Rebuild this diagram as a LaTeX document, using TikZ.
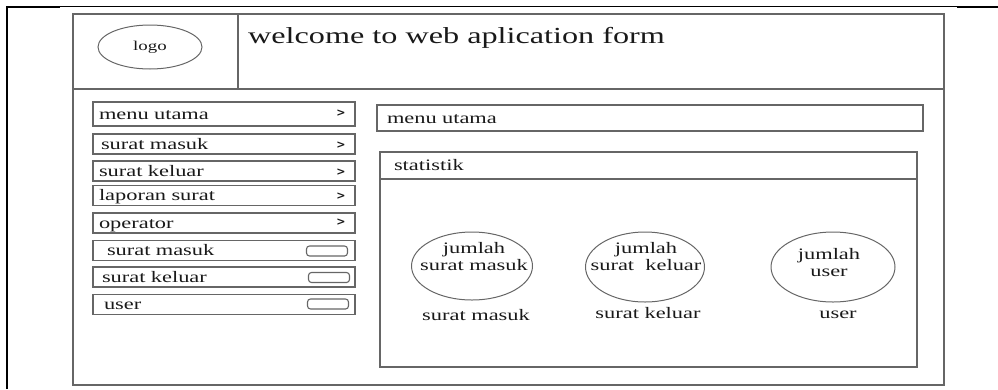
\documentclass[tikz,border=0pt]{standalone}
\usepackage{fontspec}
\setmainfont{Liberation Serif}[FakeStretch=1.4]
\newfontfamily\arrowfont{DejaVu Sans}
\usepackage{tikz}
\usetikzlibrary{shapes.geometric}

\tikzset{
  frame/.style={draw=black!60, line width=1.3pt},
  item/.style={draw=black!60, line width=1.1pt, minimum height=20pt,
    text width=250pt, inner xsep=6pt, inner ysep=0pt, align=left,
    text height=12pt, text depth=2pt},
  arr/.style={font=\fontsize{11}{11}\arrowfont\bfseries, inner sep=0pt},
  btn/.style={draw=black!60, line width=1.1pt, rounded corners=3pt,
    minimum width=41pt, minimum height=10pt, inner sep=0pt},
  stat/.style={draw=black!60, line width=1pt, ellipse, inner sep=0pt},
  txt/.style={inner sep=0pt, align=center}
}

\begin{document}
\begin{tikzpicture}[x=1pt, y=-1pt, text=black!90,
  font=\fontsize{16}{17}\selectfont]
\useasboundingbox (0,0) rectangle (998,389);

% table lines
\draw[line width=2pt] (7,389) -- (7,6.5) -- (60,6.5);
\draw[line width=1pt] (60,6.5) -- (957,6.5);
\draw[line width=2pt] (957,6.5) -- (998,6.5);

% page frame and header
\draw[frame] (73,14) rectangle (944,385);
\draw[frame] (73,89) -- (944,89);
\draw[frame] (238,14) -- (238,89);
\node[stat, minimum width=104pt, minimum height=44pt,
  font=\fontsize{13.5}{14}\selectfont] (logo) at (150,47) {logo};
\node[anchor=base west, inner sep=0pt, font=\fontsize{23}{26}\selectfont]
  (title) at (248,43) {welcome to web aplication form};

% left menu
\node[item, minimum height=24pt] (mUtama) at (224,114) {menu utama};
\node[item] (mMasuk) at (224,144) {\hspace{2pt}surat masuk};
\node[item] (mKeluar) at (224,171) {surat keluar};
\node[item] (mLaporan) at (224,195.5) {laporan surat};
\node[item] (mOperator) at (224,223) {operator};
\node[item] (oMasuk) at (224,250.5) {\hspace{8pt}surat masuk};
\node[item] (oKeluar) at (224,277) {\hspace{3pt}surat keluar};
\node[item] (oUser) at (224,304.5) {\hspace{5pt}user};

% arrows and buttons
\node[arr] (aUtama) at (341,113) {>};
\node[arr] (aMasuk) at (341,145) {>};
\node[arr] (aKeluar) at (341,172) {>};
\node[arr] (aLaporan) at (341,196) {>};
\node[arr] (aOperator) at (341,222) {>};
\node[btn] (bMasuk) at (327,251) {};
\node[btn] (bKeluar) at (329,277.5) {};
\node[btn] (bUser) at (328,304) {};

% right side
\node[item, text width=526pt, inner xsep=10pt, minimum height=26pt]
  (menuUtama) at (650,118) {menu utama};
\node[item, text width=517pt, inner xsep=10pt, minimum height=27pt]
  (statHead) at (648.5,165.5) {\hspace{4pt}statistik};
\node[draw=black!60, line width=1.1pt, minimum width=537pt,
  minimum height=188pt, inner sep=0pt] (statBody) at (648.5,273) {};

% statistik circles
\node[stat, minimum width=121pt, minimum height=68pt] (cMasuk) at (472,266) {};
\node[stat, minimum width=119pt, minimum height=70pt] (cKeluar) at (645,267) {};
\node[stat, minimum width=124pt, minimum height=70pt] (cUser) at (833,267) {};
\node[txt] (tMasuk) at (474,257) {jumlah\\surat masuk};
\node[txt] (tKeluar) at (646,257) {jumlah\\surat\ \ keluar};
\node[txt] (tUser) at (829,263) {jumlah\\user};
\node[anchor=base, inner sep=0pt] (lMasuk) at (476,320) {surat masuk};
\node[anchor=base, inner sep=0pt] (lKeluar) at (648,318) {surat keluar};
\node[anchor=base, inner sep=0pt] (lUser) at (838,318) {user};
\end{tikzpicture}
\end{document}
